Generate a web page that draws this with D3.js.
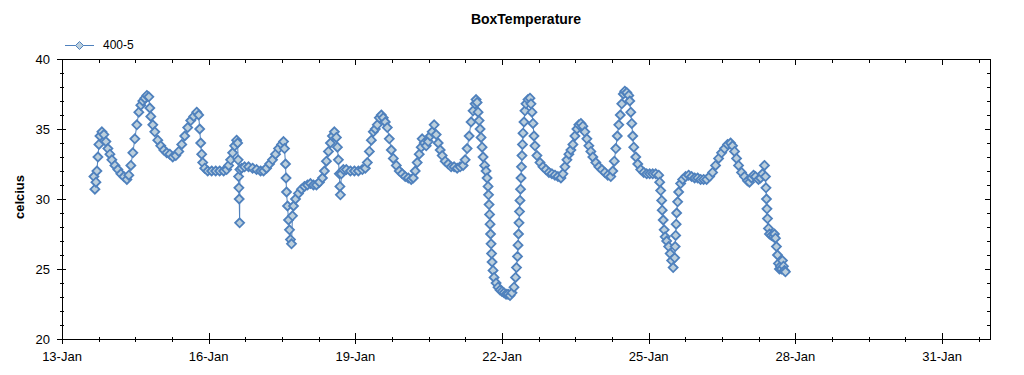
<!DOCTYPE html>
<html>
<head>
<meta charset="utf-8">
<script src="https://cdn.jsdelivr.net/npm/d3@7/dist/d3.min.js"></script>
<style>
	body { margin: 0; background: #fff; }
	svg { display: block; font-family: "Liberation Sans", Arial, sans-serif; }
</style>
</head>
<body>
<div id="chart"></div>
<script>
// time of each reading, as day of January (fractional)
var days = [
	13.653, 13.673, 13.694, 13.714, 13.735, 13.755, 13.776, 13.816, 13.857, 13.898, 13.939, 13.980,
	14.020, 14.082, 14.143, 14.204, 14.265, 14.327, 14.367, 14.408, 14.449, 14.490, 14.531, 14.571,
	14.612, 14.653, 14.694, 14.735, 14.776, 14.796, 14.816, 14.857, 14.898, 14.959,
	15.020, 15.082, 15.143, 15.204, 15.265, 15.327, 15.388, 15.449, 15.510, 15.571, 15.633, 15.694,
	15.755, 15.796, 15.816, 15.837, 15.857, 15.878, 15.918, 15.980,
	16.061, 16.143, 16.224, 16.306, 16.367, 16.408, 16.449, 16.490, 16.531, 16.571, 16.592, 16.602,
	16.612, 16.618, 16.624, 16.633, 16.639, 16.673, 16.735, 16.816, 16.898, 16.980,
	17.061, 17.122, 17.184, 17.245, 17.306, 17.367, 17.429, 17.490, 17.531, 17.551, 17.571, 17.582,
	17.592, 17.612, 17.633, 17.653, 17.673, 17.694, 17.714, 17.735, 17.776, 17.837, 17.898, 17.959,
	18.020, 18.082, 18.143, 18.204, 18.265, 18.327, 18.367, 18.408, 18.449, 18.490, 18.531, 18.571,
	18.612, 18.633, 18.653, 18.673, 18.684, 18.694, 18.714, 18.755, 18.816, 18.898, 18.980,
	19.061, 19.143, 19.204, 19.245, 19.286, 19.327, 19.367, 19.408, 19.449, 19.490, 19.531, 19.571,
	19.612, 19.653, 19.694, 19.735, 19.776, 19.837, 19.898, 19.959,
	20.020, 20.082, 20.143, 20.184, 20.224, 20.265, 20.306, 20.347, 20.367, 20.408, 20.449, 20.490,
	20.531, 20.571, 20.612, 20.653, 20.694, 20.735, 20.776, 20.837, 20.898, 20.959,
	21.020, 21.082, 21.143, 21.204, 21.245, 21.286, 21.327, 21.367, 21.408, 21.449, 21.469, 21.490,
	21.510, 21.531, 21.551, 21.571, 21.592, 21.612, 21.643, 21.673, 21.694, 21.714, 21.724, 21.735,
	21.745, 21.755, 21.765, 21.776, 21.786, 21.796, 21.816, 21.837, 21.878, 21.918, 21.959,
	22.000, 22.041, 22.082, 22.122, 22.163, 22.204, 22.245, 22.276, 22.296, 22.316, 22.327, 22.337,
	22.347, 22.357, 22.367, 22.378, 22.388, 22.398, 22.408, 22.418, 22.429, 22.449, 22.469, 22.490,
	22.531, 22.571, 22.592, 22.612, 22.633, 22.653, 22.673, 22.714, 22.776, 22.837, 22.898, 22.959,
	23.020, 23.082, 23.143, 23.204, 23.245, 23.286, 23.327, 23.367, 23.408, 23.449, 23.490, 23.531,
	23.571, 23.612, 23.653, 23.694, 23.735, 23.776, 23.816, 23.857, 23.918, 23.980,
	24.041, 24.102, 24.163, 24.224, 24.265, 24.296, 24.327, 24.357, 24.388, 24.418, 24.449, 24.480,
	24.510, 24.551, 24.592, 24.612, 24.633, 24.653, 24.673, 24.694, 24.735, 24.776, 24.837, 24.898, 24.959,
	25.020, 25.082, 25.143, 25.204, 25.224, 25.245, 25.265, 25.276, 25.296, 25.316, 25.337, 25.367,
	25.408, 25.439, 25.469, 25.500, 25.531, 25.541, 25.551, 25.561, 25.571, 25.592, 25.612, 25.653,
	25.694, 25.755, 25.816, 25.878, 25.939,
	26.000, 26.061, 26.122, 26.184, 26.245, 26.306, 26.367, 26.429, 26.490, 26.551, 26.612, 26.673,
	26.714, 26.755, 26.796, 26.837, 26.898, 26.959,
	27.020, 27.061, 27.102, 27.143, 27.184, 27.245, 27.286, 27.327, 27.367, 27.388, 27.398, 27.408,
	27.418, 27.429, 27.449, 27.469, 27.510, 27.551, 27.571, 27.592, 27.612, 27.633, 27.653, 27.673,
	27.694, 27.714, 27.735, 27.755, 27.776, 27.796
];

// box temperature readings (celcius), same order as days
var temps = [
	31.6, 30.7, 31.2, 32.0, 33.0, 33.9, 34.5, 34.8, 34.6, 34.1, 33.6, 33.2,
	32.8, 32.4, 32.1, 31.8, 31.6, 31.4, 31.7, 32.4, 33.3, 34.3, 35.3, 36.2,
	36.7, 37.0, 37.2, 37.4, 37.3, 36.5, 35.9, 35.3, 34.8, 34.2,
	33.8, 33.5, 33.3, 33.2, 33.0, 33.1, 33.4, 33.9, 34.5, 35.1, 35.6, 35.9,
	36.2, 36.0, 35.0, 34.0, 33.2, 32.6, 32.2, 32.0,
	32.0, 32.0, 32.0, 32.0, 32.1, 32.4, 32.8, 33.3, 33.8, 34.2, 34.0, 32.8,
	31.6, 30.8, 30.0, 28.3, 32.1, 32.2, 32.3, 32.3, 32.2, 32.1,
	32.0, 32.0, 32.2, 32.5, 32.8, 33.2, 33.6, 33.9, 34.1, 33.6, 32.5, 31.5,
	30.5, 29.5, 28.5, 27.8, 27.1, 26.8, 28.8, 29.5, 30.0, 30.4, 30.7, 30.9,
	31.0, 31.1, 31.0, 31.0, 31.2, 31.5, 32.0, 32.7, 33.4, 34.0, 34.5, 34.8,
	34.4, 33.7, 32.8, 31.8, 30.9, 30.3, 31.8, 32.1, 32.1, 32.0, 32.0,
	32.0, 32.1, 32.2, 32.6, 33.4, 34.2, 34.8, 35.0, 35.3, 35.8, 36.0, 35.8,
	35.5, 35.1, 34.3, 33.5, 32.9, 32.4, 32.0, 31.8,
	31.6, 31.5, 31.4, 31.5, 32.0, 32.6, 33.2, 33.7, 34.3, 34.0, 33.8, 34.1,
	34.5, 34.8, 35.3, 34.6, 34.0, 33.5, 33.1, 32.7, 32.5, 32.3,
	32.3, 32.2, 32.3, 32.4, 32.8, 33.6, 34.5, 35.5, 36.3, 36.8, 37.1, 36.9,
	36.2, 35.6, 35.0, 34.4, 33.7, 33.0, 32.4, 32.0, 31.5, 30.9, 30.3, 29.6,
	28.9, 28.2, 27.5, 26.8, 26.1, 25.5, 24.9, 24.4, 24.0, 23.7, 23.5,
	23.4, 23.3, 23.2, 23.2, 23.1, 23.3, 23.7, 24.4, 25.1, 25.9, 26.7, 27.5,
	28.3, 29.1, 29.9, 30.7, 31.5, 32.3, 33.1, 33.9, 34.7, 35.5, 36.3, 36.8,
	37.1, 37.2, 36.8, 36.2, 35.4, 34.5, 33.8, 33.1, 32.6, 32.3, 32.1, 31.9,
	31.8, 31.7, 31.6, 31.5, 31.8, 32.3, 32.8, 33.2, 33.5, 33.9, 34.5, 35.0,
	35.3, 35.4, 35.2, 34.8, 34.3, 33.8, 33.4, 33.0, 32.6, 32.3,
	32.1, 31.9, 31.7, 31.6, 32.0, 32.7, 33.6, 34.5, 35.3, 36.0, 36.8, 37.5,
	37.7, 37.6, 37.4, 37.0, 36.2, 35.4, 34.5, 33.7, 33.0, 32.5, 32.1, 31.9, 31.8,
	31.8, 31.8, 31.8, 31.7, 31.2, 30.6, 29.9, 29.2, 28.5, 27.8, 27.3, 27.0,
	26.6, 26.1, 25.6, 25.1, 25.8, 26.6, 27.4, 28.2, 29.0, 29.8, 30.5, 31.1,
	31.4, 31.6, 31.7, 31.6, 31.5,
	31.5, 31.4, 31.4, 31.4, 31.6, 31.9, 32.4, 32.9, 33.3, 33.6, 33.9, 34.0,
	33.8, 33.4, 32.9, 32.4, 31.9, 31.6,
	31.3, 31.2, 31.5, 31.7, 31.6, 31.4, 31.5, 31.8, 32.4, 31.6, 30.8, 30.0,
	29.3, 28.6, 27.9, 27.5, 27.4, 27.3, 27.5, 27.2, 26.6, 26.0, 25.4, 25.0,
	25.2, 25.0, 25.6, 25.2, 24.9, 24.8
];

var seriesName = '400-5';
var chartTitle = 'BoxTemperature';
var yTitle = 'celcius';
var majorTickDays = [13, 16, 19, 22, 25, 28, 31];
var yMajorTicks = [20, 25, 30, 35, 40];

var width = 1024,
	height = 375,
	margin = {left: 62, right: 34, top: 59, bottom: 36};

var lineColor = '#4f81bd',
	markerFill = '#bccfdc';

function toDate(d) {
	return new Date(2014, 0, 1, 0, 0, 0, Math.round((d - 1) * 86400000));
}

var data = days.map(function(d, i) {
	return {date: toDate(d), value: temps[i]};
});

var x = d3.scaleTime()
	.domain([toDate(13), toDate(31.98)])
	.range([margin.left, width - margin.right]);

var y = d3.scaleLinear()
	.domain([20, 40])
	.range([height - margin.bottom, margin.top]);

var svg = d3.select('#chart').append('svg')
	.attr('width', width)
	.attr('height', height);

var x0 = margin.left, x1 = width - margin.right,
	y0 = margin.top, y1 = height - margin.bottom;

// minor ticks every 18 hours, major every 3 days
var minorX = d3.range(13, 31.98, 0.75).map(toDate);
var majorX = majorTickDays.map(toDate);
var minorY = d3.range(20, 40.01, 1);

var ticks = svg.append('g')
	.attr('stroke', '#000')
	.attr('stroke-width', 1)
	.attr('shape-rendering', 'crispEdges');

function px(d) { return Math.round(x(d)) + 0.5; }
function py(d) { return Math.round(y(d)) + 0.5; }

// bottom axis ticks (cross the axis line)
ticks.selectAll('.bx').data(minorX).enter().append('line')
	.attr('x1', px).attr('x2', px)
	.attr('y1', y1 - 2).attr('y2', y1 + 3);
ticks.selectAll('.bxm').data(majorX).enter().append('line')
	.attr('x1', px).attr('x2', px)
	.attr('y1', y1 - 6).attr('y2', y1 + 5);

// top border ticks (inward)
ticks.selectAll('.tx').data(minorX).enter().append('line')
	.attr('x1', px).attr('x2', px)
	.attr('y1', y0).attr('y2', y0 + 4);
ticks.selectAll('.txm').data(majorX).enter().append('line')
	.attr('x1', px).attr('x2', px)
	.attr('y1', y0).attr('y2', y0 + 6);

// left axis ticks
ticks.selectAll('.ly').data(minorY).enter().append('line')
	.attr('x1', x0 - 2).attr('x2', x0 + 2)
	.attr('y1', py).attr('y2', py);
ticks.selectAll('.lym').data(yMajorTicks).enter().append('line')
	.attr('x1', x0 - 5).attr('x2', x0 + 4)
	.attr('y1', py).attr('y2', py);

// right border ticks (inward)
ticks.selectAll('.ry').data(minorY).enter().append('line')
	.attr('x1', x1 - 3).attr('x2', x1)
	.attr('y1', py).attr('y2', py);
ticks.selectAll('.rym').data(yMajorTicks).enter().append('line')
	.attr('x1', x1 - 5).attr('x2', x1)
	.attr('y1', py).attr('y2', py);

// frame
svg.append('rect')
	.attr('x', x0 + 0.5).attr('y', y0 + 0.5)
	.attr('width', x1 - x0).attr('height', y1 - y0)
	.attr('fill', 'none')
	.attr('stroke', '#000')
	.attr('shape-rendering', 'crispEdges');

// tick labels
var fmt = d3.timeFormat('%d-%b');
svg.append('g').selectAll('text').data(majorX).enter().append('text')
	.attr('x', function(d) { return x(d); })
	.attr('y', y1 + 22)
	.attr('text-anchor', 'middle')
	.style('font-size', '13px')
	.text(function(d) { return fmt(d); });

svg.append('g').selectAll('text').data(yMajorTicks).enter().append('text')
	.attr('x', x0 - 12)
	.attr('y', function(d) { return y(d); })
	.attr('dy', '.36em')
	.attr('text-anchor', 'end')
	.style('font-size', '13px')
	.text(function(d) { return d; });

// titles
svg.append('text')
	.attr('x', (x0 + x1) / 2)
	.attr('y', 24)
	.attr('text-anchor', 'middle')
	.style('font-size', '14px')
	.style('font-weight', 'bold')
	.text(chartTitle);

svg.append('text')
	.attr('transform', 'translate(24,' + ((y0 + y1) / 2 - 2) + ') rotate(-90)')
	.attr('text-anchor', 'middle')
	.style('font-size', '13px')
	.style('font-weight', 'bold')
	.text(yTitle);

// series
var line = d3.line()
	.x(function(d) { return x(d.date); })
	.y(function(d) { return y(d.value); });

svg.append('path')
	.datum(data)
	.attr('fill', 'none')
	.attr('stroke', lineColor)
	.attr('stroke-width', 1)
	.attr('d', line);

var diamond = 'M0,-4.5L4.5,0L0,4.5L-4.5,0Z';

svg.append('g').selectAll('path').data(data).enter().append('path')
	.attr('transform', function(d) { return 'translate(' + x(d.date) + ',' + y(d.value) + ')'; })
	.attr('d', diamond)
	.attr('fill', markerFill)
	.attr('stroke', lineColor)
	.attr('stroke-width', 1.8);

// legend
var legend = svg.append('g').attr('transform', 'translate(65,45)');
legend.append('line')
	.attr('x1', 0).attr('x2', 29)
	.attr('y1', 0.5).attr('y2', 0.5)
	.attr('stroke', lineColor);
legend.append('path')
	.attr('transform', 'translate(14.5,0.5)')
	.attr('d', 'M0,-4L4,0L0,4L-4,0Z')
	.attr('fill', markerFill)
	.attr('stroke', lineColor);
legend.append('text')
	.attr('x', 38)
	.attr('y', 0)
	.attr('dy', '.36em')
	.style('font-size', '12px')
	.text(seriesName);
</script>
</body>
</html>
